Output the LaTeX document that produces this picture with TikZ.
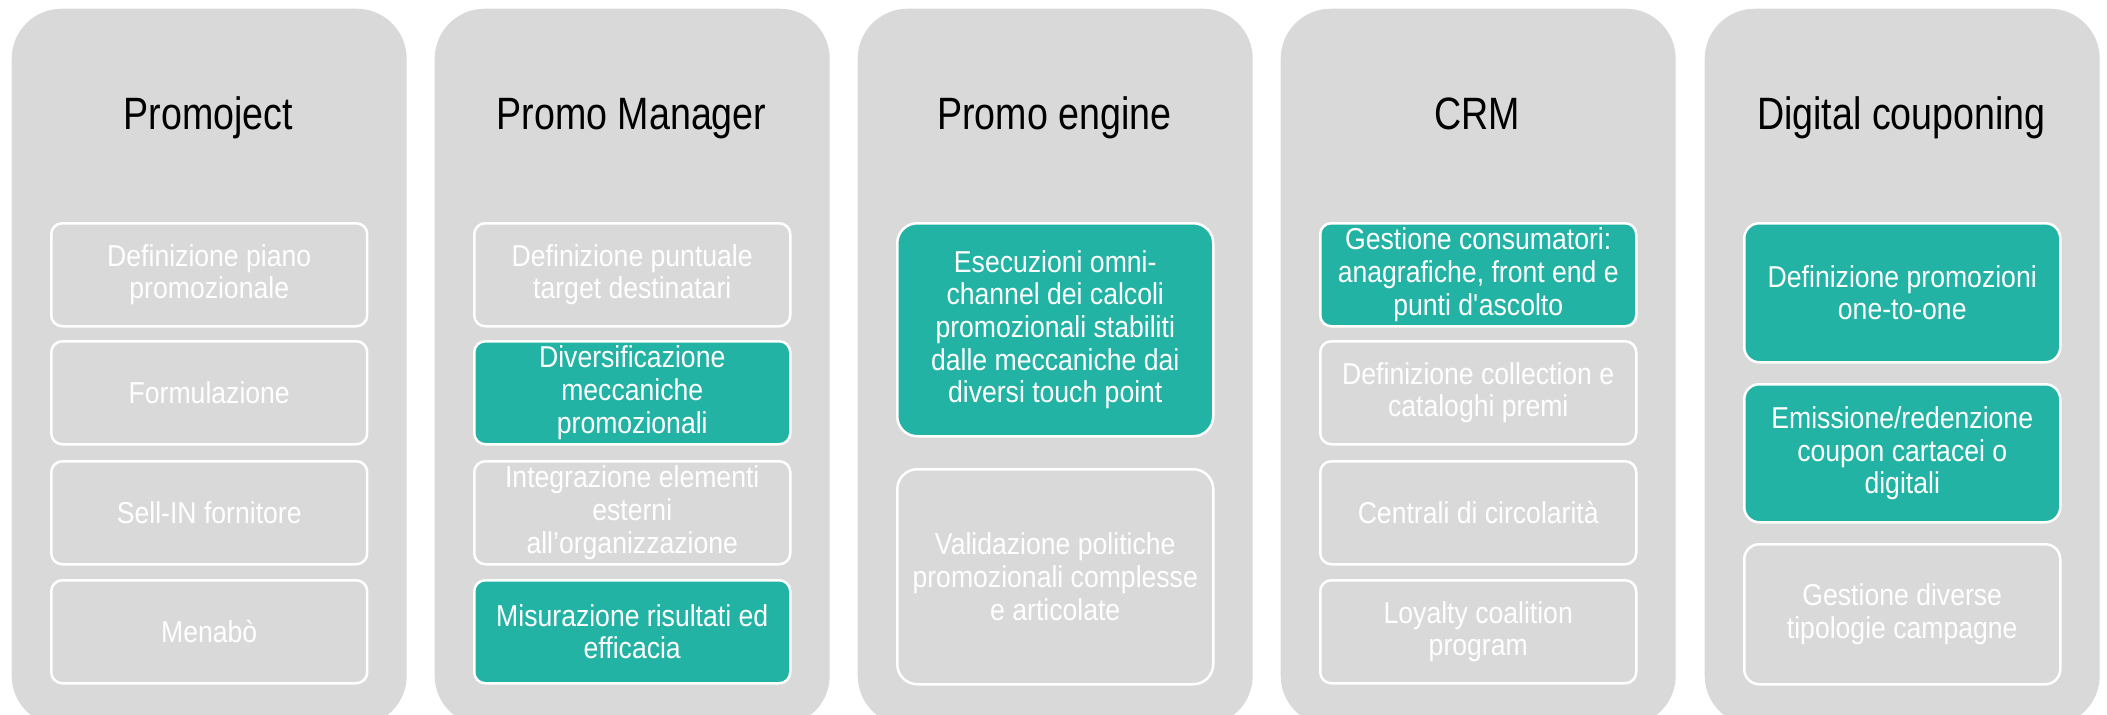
\documentclass[tikz,border=0pt]{standalone}
\usepackage{fontspec}
\setmainfont{Liberation Sans}
\newfontfamily\headfont[FakeStretch=0.83]{Liberation Sans}
\newfontfamily\itemfont[FakeStretch=0.88]{Liberation Sans}
\usetikzlibrary{positioning}
\definecolor{Panel}{RGB}{217,217,217}
\definecolor{Teal}{RGB}{34,179,165}

\tikzset{
    panel/.style={fill=Panel, rounded corners=5mm, minimum width=39.5mm,
        minimum height=71.7mm, anchor=north west, inner sep=0pt},
    heading/.style={font=\headfont\fontsize{12.9}{15}\selectfont, anchor=base},
    item/.style={draw=white, line width=0.25mm, rounded corners=1.1mm,
        minimum width=31.6mm, minimum height=10.3mm, anchor=north west,
        align=center, text=white, inner sep=0pt,
        font=\itemfont\fontsize{8.6}{9.3}\selectfont},
    hitem/.style={item, fill=Teal},
}

\begin{document}
\begin{tikzpicture}[x=0.1mm,y=-0.1mm]
    \useasboundingbox (0,0) rectangle (2107,715);

    % the five columns
    \node[panel] (pj) at (11,8) {};
    \node[panel] (pm) at (434,8) {};
    \node[panel] (pe) at (857,8) {};
    \node[panel] (crm) at (1280,8) {};
    \node[panel] (dc) at (1704,8) {};

    \node[heading] (pjT) at (208.5,129) {Promoject};
    \node[heading] (pmT) at (631.5,129) {Promo Manager};
    \node[heading] (peT) at (1054.5,129) {Promo engine};
    \node[heading] (crmT) at (1477.5,129) {CRM};
    \node[heading] (dcT) at (1901.5,129) {Digital couponing};

    % Promoject
    \node[item] (pj1) at (50,222) {Definizione piano\\promozionale};
    \node[item] (pj2) at (50,340) {Formulazione};
    \node[item] (pj3) at (50,460) {Sell-IN fornitore};
    \node[item] (pj4) at (50,579) {Menabò};

    % Promo Manager
    \node[item] (pm1) at (473,222) {Definizione puntuale\\target destinatari};
    \node[hitem] (pm2) at (473,340) {Diversificazione\\meccaniche\\promozionali};
    \node[item] (pm3) at (473,460) {Integrazione elementi\\esterni\\all’organizzazione};
    \node[hitem] (pm4) at (473,579) {Misurazione risultati ed\\efficacia};

    % Promo engine
    \node[hitem, minimum height=21.3mm, rounded corners=2mm] (pe1) at (896,222)
        {Esecuzioni omni-\\channel dei calcoli\\promozionali stabiliti\\dalle meccaniche dai\\diversi touch point};
    \node[item, minimum height=21.5mm, rounded corners=2mm] (pe2) at (896,468)
        {Validazione politiche\\promozionali complesse\\e articolate};

    % CRM
    \node[hitem] (crm1) at (1319,222) {Gestione consumatori:\\anagrafiche, front end e\\punti d\textquotesingle ascolto};
    \node[item] (crm2) at (1319,340) {Definizione collection e\\cataloghi premi};
    \node[item] (crm3) at (1319,460) {Centrali di circolarità};
    \node[item] (crm4) at (1319,579) {Loyalty coalition\\program};

    % Digital couponing
    \node[hitem, minimum height=13.9mm, rounded corners=1.5mm] (dc1) at (1743,222)
        {Definizione promozioni\\one-to-one};
    \node[hitem, minimum height=13.8mm, rounded corners=1.5mm] (dc2) at (1743,383)
        {Emissione/redenzione\\coupon cartacei o\\digitali};
    \node[item, minimum height=14mm, rounded corners=1.5mm] (dc3) at (1743,543)
        {Gestione diverse\\tipologie campagne};
\end{tikzpicture}
\end{document}
